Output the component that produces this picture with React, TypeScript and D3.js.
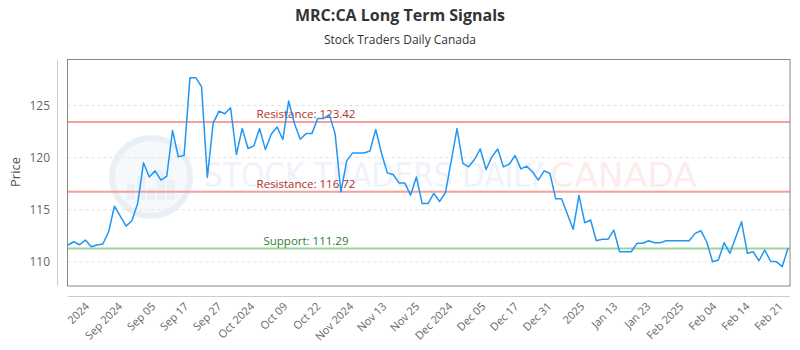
import React from 'react'
import * as d3 from 'd3'

// closing prices, one per session
const prices = [
    111.63, 111.94, 111.65, 112.1, 111.46, 111.63, 111.72, 112.9, 115.35, 114.4,
    113.44, 113.95, 115.6, 119.5, 118.15, 118.73, 117.84, 118.2, 122.6, 120.07,
    120.23, 127.66, 127.66, 126.8, 118.1, 123.3, 124.46, 124.2, 124.78, 120.3,
    122.8, 120.87, 121.12, 122.78, 120.77, 122.24, 122.94, 121.73, 125.42, 123.26,
    121.76, 122.3, 122.3, 123.74, 123.74, 124.12, 122.3, 116.72, 119.69, 120.45,
    120.45, 120.45, 120.64, 122.69, 120.39, 118.54, 118.38, 117.58, 117.58, 116.4,
    118.15, 115.6, 115.6, 116.57, 115.8, 116.63, 119.69, 122.78, 119.44, 119.11,
    119.82, 120.83, 118.86, 120.07, 120.83, 119.11, 119.37, 120.2, 118.92, 119.18,
    118.63, 117.84, 118.73, 118.48, 116.05, 116.05, 114.6, 113.13, 116.38, 113.76,
    114.02, 112.04, 112.17, 112.17, 113.06, 110.98, 110.98, 110.98, 111.79, 111.79,
    112.04, 111.85, 111.85, 112.04, 112.04, 112.04, 112.04, 112.04, 112.74, 112.99,
    111.94, 110.03, 110.19, 111.85, 110.83, 112.36, 113.85, 110.83, 110.98, 110.12,
    111.15, 110.07, 110.03, 109.55, 111.31
]

const xTickLabels = [
    '2024', 'Sep 2024', 'Sep 05', 'Sep 17', 'Sep 27', 'Oct 2024', 'Oct 09', 'Oct 22',
    'Nov 2024', 'Nov 13', 'Nov 25', 'Dec 2024', 'Dec 05', 'Dec 17', 'Dec 31', '2025',
    'Jan 13', 'Jan 23', 'Feb 2025', 'Feb 04', 'Feb 14', 'Feb 21'
]

const yTicks = [110, 115, 120, 125]

const levelNames = ['Resistance', 'Resistance', 'Support']
const levelValues = [123.42, 116.72, 111.29]

class SignalsChart extends React.Component {

    constructor(props) {
        super(props)
        this.state = { ref: React.createRef() }
        this.createChart = this.createChart.bind(this)
    }

    componentDidMount() {
        this.createChart()
    }

    createChart() {
        const node = this.state.ref.current
        d3.select(node).selectAll('*').remove()

        const left = 67.5, top = 59.5, right = 790, bottom = 286

        const x = d3.scaleLinear().domain([0, prices.length - 1]).range([68, 788])
        const y = d3.scaleLinear().domain([107.7, 129.4]).range([bottom, top])
        // the labels sit evenly along the axis, not on the sessions
        const xLab = d3.scalePoint().domain(xTickLabels).range([x(3.8), x(123.2)])

        const svg = d3.select(node)
            .attr('viewBox', [0, 0, 800, 350])
            .style('font-family', '"Open Sans", sans-serif')

        svg.append('rect').attr('width', 800).attr('height', 350).attr('fill', '#fff')

        svg.append('text')
            .attr('x', 400).attr('y', 21)
            .attr('text-anchor', 'middle')
            .attr('font-size', 16).attr('font-weight', 'bold')
            .attr('fill', '#333')
            .text('MRC:CA Long Term Signals')

        svg.append('text')
            .attr('x', 400).attr('y', 44)
            .attr('text-anchor', 'middle')
            .attr('font-size', 12)
            .attr('fill', '#333')
            .text('Stock Traders Daily Canada')

        // watermark
        const wm = svg.append('g').attr('opacity', 0.75)
        wm.append('circle')
            .attr('cx', 151).attr('cy', 177).attr('r', 39)
            .attr('fill', '#f4f7fb').attr('stroke', '#e3eaf4').attr('stroke-width', 6)
        const bars = [16, 24, 12, 30, 20]
        wm.selectAll('rect.bar')
            .data(bars)
            .join('rect')
            .attr('class', 'bar')
            .attr('x', (d, i) => 127 + i * 10)
            .attr('y', d => 200 - d)
            .attr('width', 8)
            .attr('height', d => d)
            .attr('fill', '#e6edf6')
        wm.append('text')
            .attr('x', 204).attr('y', 187)
            .attr('font-size', 34)
            .attr('font-family', '"DejaVu Sans", sans-serif')
            .attr('textLength', 340).attr('lengthAdjust', 'spacingAndGlyphs')
            .attr('fill', '#eaf0f7')
            .text('STOCK TRADERS DAILY')
        wm.append('text')
            .attr('x', 550).attr('y', 187)
            .attr('font-size', 34)
            .attr('font-family', '"DejaVu Sans", sans-serif')
            .attr('textLength', 147).attr('lengthAdjust', 'spacingAndGlyphs')
            .attr('fill', '#fde6e6')
            .text('CANADA')

        // grid
        svg.append('g')
            .selectAll('line')
            .data(yTicks)
            .join('line')
            .attr('x1', left).attr('x2', right)
            .attr('y1', d => y(d)).attr('y2', d => y(d))
            .attr('stroke', '#e2e2e2')
            .attr('stroke-dasharray', '3,3')

        svg.append('g')
            .selectAll('text')
            .data(yTicks)
            .join('text')
            .attr('x', 50).attr('y', d => y(d))
            .attr('dy', '0.35em')
            .attr('text-anchor', 'end')
            .attr('font-size', 12)
            .attr('fill', '#666')
            .text(d => d)

        svg.append('text')
            .attr('transform', 'translate(20,172) rotate(-90)')
            .attr('text-anchor', 'middle')
            .attr('font-size', 13)
            .attr('fill', '#555')
            .text('Price')

        svg.append('line')
            .attr('x1', 57.5).attr('x2', 57.5).attr('y1', top).attr('y2', bottom)
            .attr('stroke', '#ccc')
        svg.append('line')
            .attr('x1', left).attr('x2', right).attr('y1', 296.5).attr('y2', 296.5)
            .attr('stroke', '#ccc')

        svg.append('g')
            .selectAll('text')
            .data(xTickLabels)
            .join('text')
            .attr('transform', d => `translate(${xLab(d)},307) rotate(-45)`)
            .attr('text-anchor', 'end')
            .attr('font-size', 11)
            .attr('fill', '#666')
            .text(d => d)

        // support / resistance
        const lvl = svg.append('g')
            .selectAll('g')
            .data(levelValues)
            .join('g')
        lvl.append('line')
            .attr('x1', left).attr('x2', right)
            .attr('y1', d => y(d)).attr('y2', d => y(d))
            .attr('stroke', (d, i) => levelNames[i] === 'Support' ? '#9fd39c' : '#f4a099')
            .attr('stroke-width', 2)
        lvl.append('text')
            .attr('x', 306).attr('y', d => y(d) - 4)
            .attr('text-anchor', 'middle')
            .attr('font-size', 11.5)
            .attr('fill', (d, i) => levelNames[i] === 'Support' ? '#2e7d32' : '#b2302a')
            .text((d, i) => `${levelNames[i]}: ${d}`)

        const line = d3.line()
            .x((d, i) => x(i))
            .y(d => y(d))

        svg.append('path')
            .datum(prices)
            .attr('d', line)
            .attr('fill', 'none')
            .attr('stroke', '#2196f3')
            .attr('stroke-width', 1.5)
            .attr('stroke-linejoin', 'round')

        svg.append('rect')
            .attr('x', left).attr('y', top)
            .attr('width', right - left).attr('height', bottom - top)
            .attr('fill', 'none')
            .attr('stroke', '#888')
    }

    render() {
        return (
            <svg ref={this.state.ref} width={800} height={350}
                style={{ position: 'absolute', left: 0, top: 0 }} />
        )
    }
}

export default function App() {
    return <SignalsChart />
}
